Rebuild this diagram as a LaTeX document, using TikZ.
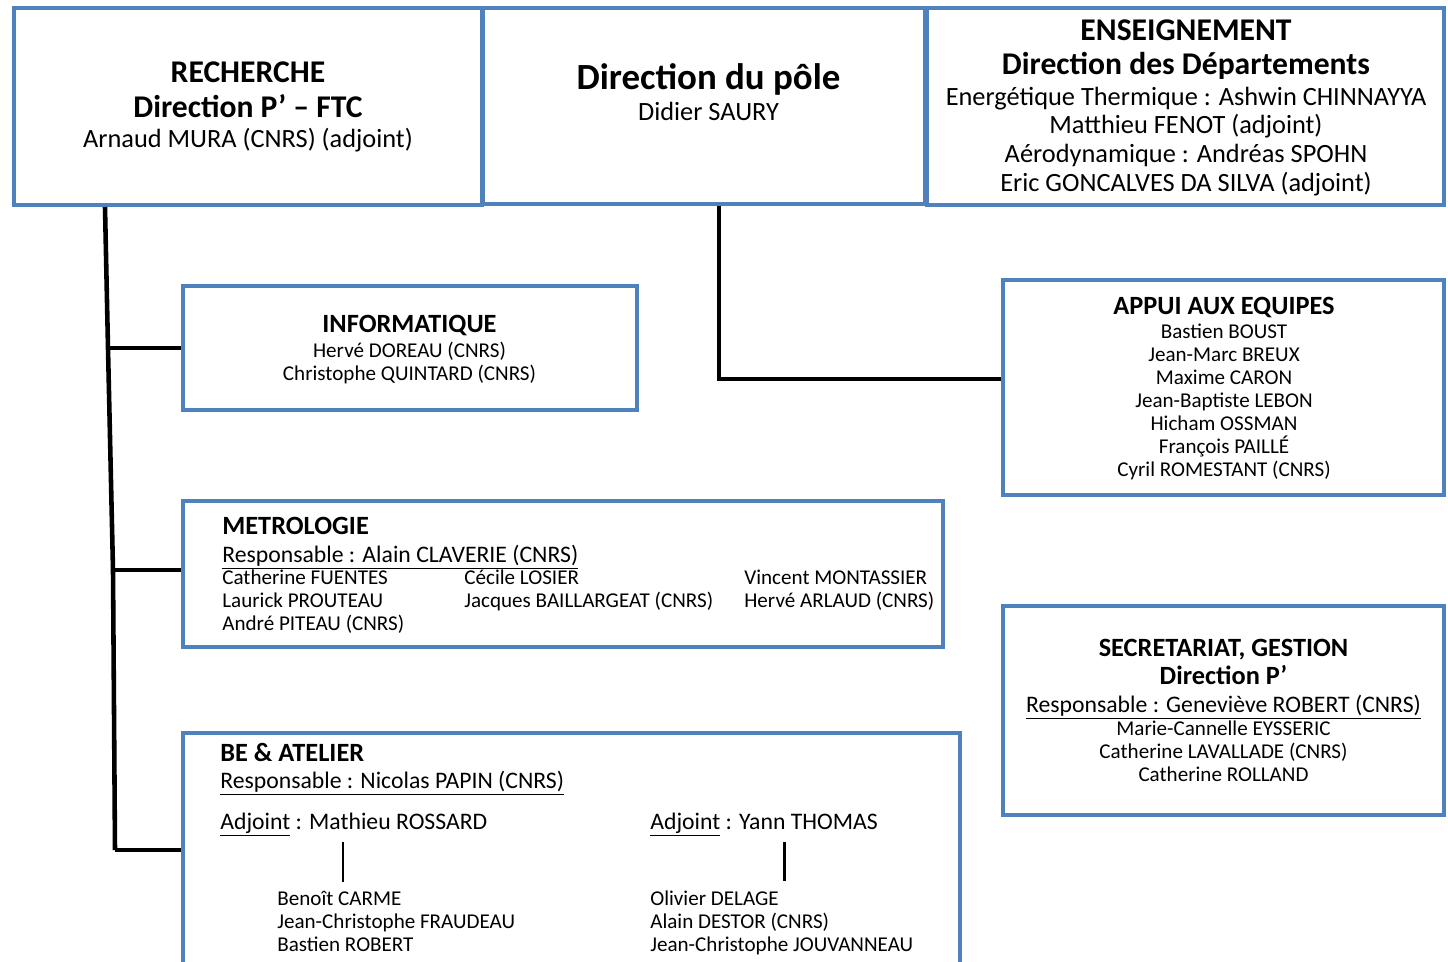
\documentclass[tikz,border=0pt]{standalone}
\usepackage{fontspec}
\setmainfont{Carlito}
\definecolor{bleuboite}{RGB}{79,129,189}
\tikzset{
  boite/.style={draw=bleuboite, line width=2.3pt, inner sep=0pt},
  lien/.style={line width=2.6pt, black},
  trait/.style={line width=1.7pt, black},
  txt/.style={inner sep=0pt, anchor=base, align=center},
  grand/.style={txt, font=\fontsize{21}{23}\selectfont\bfseries},
  titre/.style={txt, font=\fontsize{18}{19.4}\selectfont\bfseries},
  texte/.style={txt, font=\fontsize{15}{16.4}\selectfont},
  entete/.style={txt, font=\fontsize{15}{15.9}\selectfont\bfseries},
  resp/.style={txt, font=\fontsize{13.5}{15}\selectfont},
  noms/.style={txt, font=\fontsize{12}{13}\selectfont},
  gauche/.style={anchor=base west, align=left}
}
\begin{document}
\begin{tikzpicture}[x=0.02cm, y=-0.02cm]

    \useasboundingbox (0,0) rectangle (1448,961);
    \clip (0,0) rectangle (1448,961);

    % Cadres du haut
    \node[boite, minimum width=9.38cm, minimum height=3.94cm] (rech) at (248,106.5) {};
    \node[boite, minimum width=8.84cm, minimum height=3.92cm] (dir) at (704,106) {};
    \node[boite, minimum width=10.34cm, minimum height=3.94cm] (ens) at (1185.5,106.5) {};

    % Cadres des services
    \node[boite, minimum width=9.08cm, minimum height=2.48cm] (info) at (410,348) {};
    \node[boite, minimum width=8.82cm, minimum height=4.30cm] (appui) at (1223.5,387.5) {};
    \node[boite, minimum width=15.2cm, minimum height=2.92cm] (metro) at (563,574) {};
    \node[boite, minimum width=8.82cm, minimum height=4.18cm] (secr) at (1223.5,710.5) {};
    \node[boite, minimum width=15.54cm, minimum height=5.2cm] (be) at (571.5,863) {};

    % Textes du haut (base = derniere ligne)
    \node[titre] (rechT) at (248,117) {RECHERCHE\\Direction P’ – FTC};
    \node[texte] (rechN) at (248,147.5) {Arnaud MURA (CNRS) (adjoint)};
    \node[grand] (dirT) at (708.5,89) {Direction du pôle};
    \node[texte] (dirN) at (708.5,120.5) {Didier SAURY};
    \node[titre] (ensT) at (1186,74.5) {ENSEIGNEMENT\\Direction des Départements};
    \node[texte] (ensN) at (1186,191.5) {Energétique Thermique : Ashwin CHINNAYYA\\Matthieu FENOT (adjoint)\\Aérodynamique : Andréas SPOHN\\Eric GONCALVES DA SILVA (adjoint)};

    % Informatique, appui, secretariat
    \node[entete] (infoT) at (409.5,332.5) {INFORMATIQUE};
    \node[noms] (infoN) at (409.5,380) {Hervé DOREAU (CNRS)\\Christophe QUINTARD (CNRS)};
    \node[entete] (appuiT) at (1224,314.5) {APPUI AUX EQUIPES};
    \node[noms] (appuiN) at (1224,476) {Bastien BOUST\\Jean-Marc BREUX\\Maxime CARON\\Jean-Baptiste LEBON\\Hicham OSSMAN\\François PAILLÉ\\Cyril ROMESTANT (CNRS)};
    \node[entete] (secrT) at (1223.5,684.5) {SECRETARIAT, GESTION\\Direction P’};
    \node[resp] (secrR) at (1223.5,712) {\underline{Responsable : Geneviève ROBERT (CNRS)}};
    \node[noms] (secrN) at (1223.5,781) {Marie-Cannelle EYSSERIC\\Catherine LAVALLADE (CNRS)\\Catherine ROLLAND};

    % Metrologie
    \node[entete, gauche] (metroT) at (222,534.5) {METROLOGIE};
    \node[resp, gauche] (metroR) at (222,562) {\underline{Responsable : Alain CLAVERIE (CNRS)}};
    \node[noms, gauche] (metroA) at (222,630) {Catherine FUENTES\\Laurick PROUTEAU\\André PITEAU (CNRS)};
    \node[noms, gauche] (metroB) at (464,607) {Cécile LOSIER\\Jacques BAILLARGEAT (CNRS)};
    \node[noms, gauche] (metroC) at (744,607) {Vincent MONTASSIER\\Hervé ARLAUD (CNRS)};

    % BE et atelier
    \node[entete, gauche] (beT) at (220,761.5) {BE \& ATELIER};
    \node[resp, gauche] (beR) at (220,788) {\underline{Responsable : Nicolas PAPIN (CNRS)}};
    \node[resp, gauche] (adjA) at (220,829) {\underline{Adjoint} : Mathieu ROSSARD};
    \node[resp, gauche] (adjB) at (650,829) {\underline{Adjoint} : Yann THOMAS};
    \node[noms, gauche] (nomsA) at (277,951) {Benoît CARME\\Jean-Christophe FRAUDEAU\\Bastien ROBERT};
    \node[noms, gauche] (nomsB) at (650,951) {Olivier DELAGE\\Alain DESTOR (CNRS)\\Jean-Christophe JOUVANNEAU};

    % Liaisons
    \coordinate (t0) at (105,0);
    \coordinate (t1) at (108,348);
    \coordinate (t2) at (113,570);
    \coordinate (t3) at (115,850);
    \draw[lien] (rech.south -| t0) -- (t1) -- (t2) -- (t3);
    \draw[lien] (t1) -- (t1 -| info.west);
    \draw[lien] (t2) -- (t2 -| metro.west);
    \draw[lien] (t3) -- (t3 -| be.west);

    \coordinate (d0) at (719,379);
    \draw[lien] (dir.south -| d0) -- (d0) -- (d0 -| appui.west);

    \coordinate (ca) at (343,0);
    \coordinate (cb) at (784,0);
    \draw[trait] ([yshift=-0.1cm]adjA.south -| ca) -- ([yshift=0.18cm]nomsA.north -| ca);
    \draw[trait] ([yshift=-0.1cm]adjB.south -| cb) -- ([yshift=0.18cm]nomsB.north -| cb);

  \end{tikzpicture}
\end{document}
